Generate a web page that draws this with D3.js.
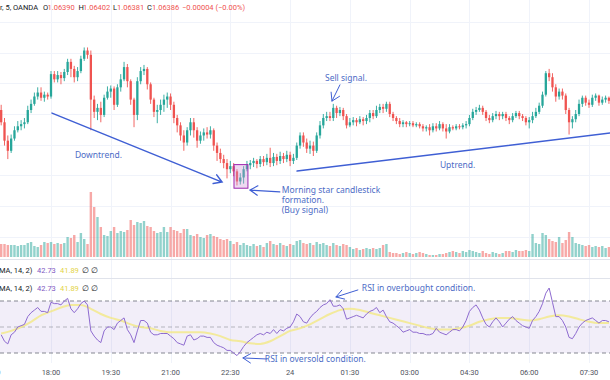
<!DOCTYPE html>
<html>
<head>
<meta charset="utf-8">
<script src="https://cdn.jsdelivr.net/npm/d3@7"></script>
<style>
  body { margin: 0; background: #fff; }
  svg { display: block; font-family: Roboto, "Noto Sans", sans-serif; }
</style>
</head>
<body>
<svg id="chart" width="610" height="380"></svg>
<script>
// EURUSD 5 min bars, 23rd 16:45 -> 24th 08:00
var firstBar = '2023-01-23 16:45';

var opens = [
  1.06313,1.06273,1.06213,1.06180,1.06220,1.06247,1.06260,1.06267,1.06273,1.06313,
  1.06333,1.06357,1.06370,1.06353,1.06363,1.06357,1.06430,1.06413,1.06427,1.06417,
  1.06437,1.06470,1.06447,1.06420,1.06440,1.06480,1.06507,1.06493,1.06347,1.06307,
  1.06320,1.06297,1.06353,1.06373,1.06383,1.06330,1.06387,1.06413,1.06453,1.06407,
  1.06347,1.06297,1.06407,1.06440,1.06447,1.06397,1.06347,1.06307,1.06313,1.06330,
  1.06347,1.06357,1.06330,1.06287,1.06263,1.06230,1.06207,1.06247,1.06273,1.06247,
  1.06213,1.06230,1.06240,1.06233,1.06247,1.06197,1.06173,1.06153,1.06140,1.06120,
  1.06130,1.06113,1.06080,1.06093,1.06120,1.06133,1.06140,1.06147,1.06137,1.06153,
  1.06143,1.06157,1.06140,1.06160,1.06147,1.06163,1.06153,1.06167,1.06147,1.06157,
  1.06197,1.06230,1.06207,1.06187,1.06197,1.06180,1.06230,1.06263,1.06287,1.06293,
  1.06287,1.06320,1.06303,1.06313,1.06293,1.06263,1.06273,1.06280,1.06273,1.06283,
  1.06277,1.06287,1.06303,1.06293,1.06313,1.06323,1.06317,1.06333,1.06300,1.06287,
  1.06277,1.06267,1.06273,1.06267,1.06270,1.06263,1.06267,1.06260,1.06253,1.06257,
  1.06247,1.06260,1.06253,1.06267,1.06253,1.06243,1.06257,1.06253,1.06260,1.06257,
  1.06263,1.06267,1.06287,1.06307,1.06313,1.06320,1.06307,1.06287,1.06280,1.06293,
  1.06300,1.06293,1.06300,1.06287,1.06280,1.06293,1.06303,1.06293,1.06287,1.06273,
  1.06280,1.06293,1.06307,1.06327,1.06363,1.06433,1.06420,1.06387,1.06357,1.06373,
  1.06360,1.06313,1.06273,1.06283,1.06300,1.06333,1.06353,1.06337,1.06330,1.06353,
  1.06360,1.06337,1.06347,1.06353
];

var highs = [
  1.06330,1.06287,1.06230,1.06233,1.06260,1.06277,1.06280,1.06287,1.06327,1.06347,
  1.06370,1.06387,1.06387,1.06373,1.06370,1.06440,1.06440,1.06440,1.06437,1.06447,
  1.06480,1.06480,1.06457,1.06453,1.06490,1.06517,1.06517,1.06507,1.06360,1.06333,
  1.06340,1.06363,1.06390,1.06393,1.06390,1.06397,1.06430,1.06470,1.06463,1.06413,
  1.06353,1.06420,1.06453,1.06460,1.06453,1.06403,1.06353,1.06330,1.06347,1.06363,
  1.06370,1.06367,1.06340,1.06297,1.06273,1.06247,1.06257,1.06287,1.06287,1.06257,
  1.06243,1.06253,1.06257,1.06260,1.06253,1.06207,1.06187,1.06167,1.06153,1.06147,
  1.06140,1.06120,1.06107,1.06130,1.06147,1.06150,1.06157,1.06153,1.06163,1.06163,
  1.06170,1.06190,1.06173,1.06170,1.06177,1.06173,1.06180,1.06177,1.06170,1.06207,
  1.06240,1.06240,1.06220,1.06213,1.06210,1.06240,1.06277,1.06300,1.06307,1.06307,
  1.06333,1.06327,1.06323,1.06320,1.06300,1.06287,1.06290,1.06287,1.06293,1.06290,
  1.06297,1.06313,1.06313,1.06327,1.06333,1.06333,1.06340,1.06340,1.06307,1.06293,
  1.06287,1.06280,1.06277,1.06277,1.06277,1.06273,1.06273,1.06267,1.06263,1.06267,
  1.06270,1.06270,1.06277,1.06273,1.06267,1.06267,1.06263,1.06267,1.06267,1.06270,
  1.06277,1.06297,1.06317,1.06323,1.06330,1.06327,1.06313,1.06297,1.06303,1.06310,
  1.06307,1.06307,1.06307,1.06293,1.06303,1.06310,1.06310,1.06300,1.06293,1.06290,
  1.06307,1.06320,1.06337,1.06373,1.06440,1.06447,1.06433,1.06397,1.06383,1.06383,
  1.06367,1.06320,1.06293,1.06313,1.06347,1.06360,1.06360,1.06347,1.06363,1.06367,
  1.06363,1.06357,1.06360,1.06357
];

var lows = [
  1.06263,1.06197,1.06153,1.06173,1.06213,1.06240,1.06247,1.06253,1.06267,1.06303,
  1.06327,1.06347,1.06343,1.06340,1.06347,1.06350,1.06403,1.06403,1.06397,1.06407,
  1.06427,1.06420,1.06403,1.06407,1.06433,1.06473,1.06480,1.06247,1.06287,1.06280,
  1.06273,1.06290,1.06347,1.06353,1.06313,1.06323,1.06373,1.06407,1.06387,1.06330,
  1.06257,1.06280,1.06397,1.06427,1.06380,1.06333,1.06290,1.06270,1.06297,1.06307,
  1.06320,1.06313,1.06270,1.06240,1.06213,1.06180,1.06197,1.06230,1.06223,1.06190,
  1.06203,1.06213,1.06220,1.06220,1.06180,1.06147,1.06140,1.06123,1.06090,1.06107,
  1.06097,1.06067,1.06070,1.06073,1.06113,1.06120,1.06127,1.06123,1.06127,1.06130,
  1.06133,1.06127,1.06130,1.06133,1.06137,1.06140,1.06143,1.06130,1.06137,1.06150,
  1.06187,1.06193,1.06173,1.06170,1.06163,1.06173,1.06220,1.06253,1.06277,1.06277,
  1.06277,1.06287,1.06293,1.06280,1.06253,1.06257,1.06263,1.06260,1.06267,1.06263,
  1.06267,1.06273,1.06283,1.06287,1.06303,1.06303,1.06307,1.06290,1.06277,1.06267,
  1.06257,1.06257,1.06257,1.06260,1.06257,1.06257,1.06253,1.06243,1.06243,1.06230,
  1.06240,1.06243,1.06247,1.06243,1.06220,1.06237,1.06247,1.06247,1.06250,1.06250,
  1.06253,1.06260,1.06280,1.06297,1.06307,1.06297,1.06277,1.06270,1.06273,1.06283,
  1.06280,1.06283,1.06277,1.06267,1.06273,1.06287,1.06283,1.06277,1.06263,1.06253,
  1.06270,1.06287,1.06300,1.06320,1.06357,1.06407,1.06373,1.06340,1.06347,1.06347,
  1.06300,1.06233,1.06253,1.06273,1.06293,1.06323,1.06327,1.06320,1.06323,1.06343,
  1.06327,1.06330,1.06337,1.06333
];

var closes = [
  1.06273,1.06213,1.06180,1.06220,1.06247,1.06260,1.06267,1.06273,1.06313,1.06333,
  1.06357,1.06370,1.06353,1.06363,1.06357,1.06430,1.06413,1.06427,1.06417,1.06437,
  1.06470,1.06447,1.06420,1.06440,1.06480,1.06507,1.06493,1.06347,1.06307,1.06320,
  1.06297,1.06353,1.06373,1.06383,1.06330,1.06387,1.06413,1.06453,1.06407,1.06347,
  1.06297,1.06407,1.06440,1.06447,1.06397,1.06347,1.06307,1.06313,1.06330,1.06347,
  1.06357,1.06330,1.06287,1.06263,1.06230,1.06207,1.06247,1.06273,1.06247,1.06213,
  1.06230,1.06240,1.06233,1.06247,1.06197,1.06173,1.06153,1.06140,1.06120,1.06130,
  1.06113,1.06080,1.06093,1.06120,1.06133,1.06140,1.06147,1.06137,1.06153,1.06143,
  1.06157,1.06140,1.06160,1.06147,1.06163,1.06153,1.06167,1.06147,1.06157,1.06197,
  1.06230,1.06207,1.06187,1.06197,1.06180,1.06230,1.06263,1.06287,1.06293,1.06287,
  1.06320,1.06303,1.06313,1.06293,1.06263,1.06273,1.06280,1.06273,1.06283,1.06277,
  1.06287,1.06303,1.06293,1.06313,1.06323,1.06317,1.06333,1.06300,1.06287,1.06277,
  1.06267,1.06273,1.06267,1.06270,1.06263,1.06267,1.06260,1.06253,1.06257,1.06247,
  1.06260,1.06253,1.06267,1.06253,1.06243,1.06257,1.06253,1.06260,1.06257,1.06263,
  1.06267,1.06287,1.06307,1.06313,1.06320,1.06307,1.06287,1.06280,1.06293,1.06300,
  1.06293,1.06300,1.06287,1.06280,1.06293,1.06303,1.06293,1.06287,1.06273,1.06280,
  1.06293,1.06307,1.06327,1.06363,1.06433,1.06420,1.06387,1.06357,1.06373,1.06360,
  1.06313,1.06273,1.06283,1.06300,1.06333,1.06353,1.06337,1.06330,1.06353,1.06360,
  1.06337,1.06347,1.06353,1.06343
];

var volumes = [
  1300,1300,1200,1200,1200,1100,1200,1200,1400,1500,
  1100,1000,1200,1500,1400,1500,1300,1400,1300,1400,
  2000,1900,2200,1500,2400,1800,1300,6500,5000,4000,
  3000,2200,2100,2600,3000,2400,2600,2500,2700,3700,
  3200,3500,3400,3600,3100,3000,2600,2400,2500,3000,
  2500,3000,2700,2600,2400,2800,2800,2200,2100,2300,
  2000,1900,2200,2300,2100,2000,1800,1700,1800,1600,
  1300,1500,1200,1400,1200,1100,1300,1100,1200,1000,
  1400,1600,1300,1200,1400,1200,1100,1300,1200,1600,
  1700,1400,1300,1400,1200,1500,1300,1400,1200,1100,
  1400,1200,1100,1300,1200,1000,800,900,700,800,
  900,800,900,800,900,1200,1300,500,400,400,
  300,400,500,400,300,400,500,400,300,200,
  200,200,300,300,400,500,600,500,400,600,
  500,700,600,500,400,600,400,300,500,400,
  300,400,600,600,500,700,600,600,700,600,
  2300,1400,1300,2400,2200,1800,1600,1500,2000,1400,
  1700,2500,2000,1400,1300,1200,1100,1200,1000,1100,
  1000,1100,900,1000
];

var rsi = [
  44,39,37,44,46,50,51,52,58,61,
  63,65,62,62,61,69,68,68,67,70,
  72,64,61,64,68,70,67,47,43,40,
  38,47,50,50,48,53,55,57,48,44,
  38,47,55,55,53,46,44,44,45,45,
  45,43,41,38,37,36,43,44,40,41,
  43,43,42,42,38,36,35,34,32,32,
  30,28,31,35,38,40,42,44,45,44,
  46,45,48,45,48,47,49,50,54,60,
  58,54,53,57,60,62,65,67,68,71,
  66,66,67,64,56,57,58,59,58,57,
  60,62,63,65,61,63,58,54,53,51,
  49,46,47,48,46,46,45,45,44,44,
  45,49,46,45,44,46,48,48,47,50,
  55,62,65,67,63,57,52,50,54,57,
  54,50,53,56,58,55,53,51,50,49,
  55,58,62,68,76,80,69,58,58,55,
  50,42,41,45,50,53,55,56,57,55,
  53,55,55,54
];

// RSI based MA, read every 3rd bar
var rsiMA = [
  45,47,50,54,59,62,65,67,67,64,
  60,57,55,52,50,49,47,46,46,46,
  46,45,43,40,39,37.5,37,39,43,47,
  49,52,56,60,63,64,63,61,59,57,
  55,53,51,49,48,48,49,51,54,56,
  57,57,56,55,56,58,59,58,56,54,
  53,53
];

var tickTimes = ['2023-01-23 16:30','2023-01-23 18:00','2023-01-23 19:30','2023-01-23 21:00',
  '2023-01-23 22:30','2023-01-24 00:00','2023-01-24 01:30','2023-01-24 03:00',
  '2023-01-24 04:30','2023-01-24 06:00','2023-01-24 07:30'];
var tickLabels = ['16:30','18:00','19:30','21:00','22:30','24','01:30','03:00','04:30','06:00','07:30'];
var priceLevels = [1.0590, 1.0600, 1.0610, 1.0620, 1.0630, 1.0640, 1.0650, 1.0660];
var rsiLevels = [70, 50, 30];

var UP = '#26a69a', DOWN = '#ef5350', TEXT = '#131722', GRID = '#f0f3fa';
var BLUE = '#3f5fd4', NOTE = '#4d6cc6';

var parse = d3.timeParse('%Y-%m-%d %H:%M');
var start = parse(firstBar);
function barTime(i) { return new Date(start.getTime() + i * 300000); }

var x = d3.scaleTime()
  .domain([parse('2023-01-23 18:00'), parse('2023-01-24 07:30')])
  .range([51, 589]);
var xi = function(i) { return x(barTime(i)); };

var yPrice = d3.scaleLinear().domain([1.0600, 1.0660]).range([206, 22]);
var yVol = d3.scaleLinear().domain([0, 6500]).range([257, 192]);
var yRsi = d3.scaleLinear().domain([30, 70]).range([353, 301]);

var svg = d3.select('#chart');
svg.append('rect').attr('width', 610).attr('height', 380).attr('fill', '#fff');

// grid
var grid = svg.append('g').attr('stroke', GRID).attr('stroke-width', 1);
grid.selectAll('.v').data(tickTimes).enter().append('line')
  .attr('x1', function(d) { return Math.round(x(parse(d))) + 0.5; })
  .attr('x2', function(d) { return Math.round(x(parse(d))) + 0.5; })
  .attr('y1', 0).attr('y2', 363);
grid.selectAll('.h').data(priceLevels).enter().append('line')
  .attr('x1', 0).attr('x2', 610)
  .attr('y1', function(d) { return Math.round(yPrice(d)) + 0.5; })
  .attr('y2', function(d) { return Math.round(yPrice(d)) + 0.5; });

// pane separators
svg.append('line').attr('x1', 0).attr('x2', 610).attr('y1', 259.5).attr('y2', 259.5).attr('stroke', '#e0e3eb');
svg.append('line').attr('x1', 0).attr('x2', 610).attr('y1', 278.5).attr('y2', 278.5).attr('stroke', '#e0e3eb');

var bars = d3.range(closes.length);
function isUp(i) { return closes[i] >= opens[i]; }

// volume
svg.append('g').selectAll('rect').data(bars).enter().append('rect')
  .attr('x', function(i) { return xi(i) - 1.2; })
  .attr('width', 2.4)
  .attr('y', function(i) { return yVol(volumes[i]); })
  .attr('height', function(i) { return yVol(0) - yVol(volumes[i]); })
  .attr('fill', function(i) { return isUp(i) ? UP : DOWN; })
  .attr('fill-opacity', 0.5);

// candles
var candles = svg.append('g').selectAll('g').data(bars).enter().append('g')
  .attr('fill', function(i) { return isUp(i) ? UP : DOWN; })
  .attr('stroke', function(i) { return isUp(i) ? UP : DOWN; });
candles.append('line')
  .attr('x1', function(i) { return xi(i); })
  .attr('x2', function(i) { return xi(i); })
  .attr('y1', function(i) { return yPrice(highs[i]); })
  .attr('y2', function(i) { return yPrice(lows[i]); })
  .attr('stroke-width', 0.9);
candles.append('rect')
  .attr('stroke', 'none')
  .attr('x', function(i) { return xi(i) - 1.15; })
  .attr('width', 2.3)
  .attr('y', function(i) { return yPrice(Math.max(opens[i], closes[i])); })
  .attr('height', function(i) {
    return Math.max(1, Math.abs(yPrice(opens[i]) - yPrice(closes[i])));
  });

// RSI pane
svg.append('rect')
  .attr('x', 0).attr('width', 610)
  .attr('y', yRsi(70)).attr('height', yRsi(30) - yRsi(70))
  .attr('fill', '#7e57c2').attr('fill-opacity', 0.1);
svg.append('g').selectAll('line').data(rsiLevels).enter().append('line')
  .attr('x1', 0).attr('x2', 610)
  .attr('y1', function(d) { return yRsi(d); })
  .attr('y2', function(d) { return yRsi(d); })
  .attr('stroke', '#787b86')
  .attr('stroke-opacity', function(d) { return d === 50 ? 0.5 : 0.9; })
  .attr('stroke-dasharray', '4,3');

svg.append('path')
  .datum(rsiMA)
  .attr('fill', 'none')
  .attr('stroke', '#f2e985')
  .attr('stroke-width', 2)
  .attr('stroke-opacity', 0.8)
  .attr('d', d3.line()
    .x(function(d, k) { return xi(k * 3); })
    .y(function(d) { return yRsi(d); })
    .curve(d3.curveMonotoneX));

svg.append('path')
  .datum(rsi)
  .attr('fill', 'none')
  .attr('stroke', '#8e6bd0')
  .attr('stroke-width', 1)
  .attr('d', d3.line()
    .x(function(d, i) { return xi(i); })
    .y(function(d) { return yRsi(d); }));

// time axis labels
svg.append('g').selectAll('text').data(tickTimes).enter().append('text')
  .attr('x', function(d) { return x(parse(d)); })
  .attr('y', 375)
  .attr('text-anchor', 'middle')
  .attr('font-size', 7.5)
  .attr('fill', '#50535e')
  .text(function(d, k) { return tickLabels[k]; });

// header
var header = svg.append('text').attr('y', 10).attr('font-size', 7.5);
[['r, 5, OANDA', 0, TEXT], ['O', 43, TEXT], ['1.06390', 47.5, DOWN],
 ['H', 78.5, TEXT], ['1.06402', 83, DOWN], ['L', 113, TEXT], ['1.06381', 117, DOWN],
 ['C', 147, TEXT], ['1.06386', 152, DOWN], ['\u22120.00004 (\u22120.00%)', 182, DOWN]]
  .forEach(function(p) {
    header.append('tspan').attr('x', p[1]).attr('fill', p[2]).text(p[0]);
  });

// RSI legends
[272.5, 291].forEach(function(ly) {
  var t = svg.append('text').attr('y', ly).attr('font-size', 7.5);
  t.append('tspan').attr('x', -1).attr('fill', TEXT).text('MA, 14, 2)');
  t.append('tspan').attr('x', 37).attr('fill', '#7e57c2').text('42.73');
  t.append('tspan').attr('x', 60).attr('fill', '#e3d446').text('41.89');
  t.append('tspan').attr('x', 82).attr('fill', TEXT).text('\u2205 \u2205');
});

// drawings
var ann = svg.append('g').attr('fill', 'none').attr('stroke', BLUE).attr('stroke-linecap', 'round');

function arrow(p1, p2, yScale, width, head) {
  var x1 = xi(p1[0]), y1 = yScale(p1[1]), x2 = xi(p2[0]), y2 = yScale(p2[1]);
  var a = Math.atan2(y2 - y1, x2 - x1), L = 9, s = 0.55;
  var p = d3.path();
  p.moveTo(x1, y1); p.lineTo(x2, y2);
  if (head) {
    p.moveTo(x2 - L * Math.cos(a - s), y2 - L * Math.sin(a - s));
    p.lineTo(x2, y2);
    p.lineTo(x2 - L * Math.cos(a + s), y2 - L * Math.sin(a + s));
  }
  ann.append('path').attr('d', p.toString()).attr('stroke-width', width);
}

// morning star box
svg.append('rect')
  .attr('x', xi(70.1)).attr('width', xi(74.3) - xi(70.1))
  .attr('y', yPrice(1.06135)).attr('height', yPrice(1.06058) - yPrice(1.06135))
  .attr('fill', '#ce93d8').attr('fill-opacity', 0.35)
  .attr('stroke', '#9c27b0').attr('stroke-width', 1);

arrow([15.3, 1.06303], [66.5, 1.06078], yPrice, 1.5, true);   // downtrend
arrow([89.1, 1.06114], [184.9, 1.06240], yPrice, 1.5, false); // uptrend
arrow([83.9, 1.06046], [74.9, 1.06052], yPrice, 1.2, true);   // morning star
arrow([102.0, 1.06395], [99.6, 1.06342], yPrice, 1, true);    // sell signal
arrow([107.4, 78.5], [100.8, 73.1], yRsi, 1, true);           // overbought
arrow([80.0, 25.4], [72.8, 26.2], yRsi, 1, true);             // oversold

var notes = svg.append('g').attr('font-family', '"Noto Sans", sans-serif')
  .attr('font-size', 8.5).attr('fill', NOTE);
function note(lines, i, yv) {
  var t = notes.append('text').attr('x', xi(i)).attr('y', yv);
  lines.forEach(function(s, k) {
    t.append('tspan').attr('x', xi(i)).attr('dy', k ? 9.7 : 0).text(s);
  });
}
note(['Downtrend.'], 22.2, yPrice(1.06157));
note(['Sell signal.'], 97.5, yPrice(1.06408));
note(['Uptrend.'], 132.1, yPrice(1.06124));
note(['Morning star candlestick', 'formation.', '(Buy signal)'], 84.5, yPrice(1.06042));
note(['RSI in overbought condition.'], 108.6, yRsi(77.7));
note(['RSI in oversold condition.'], 79.4, yRsi(23.1));
</script>
</body>
</html>
